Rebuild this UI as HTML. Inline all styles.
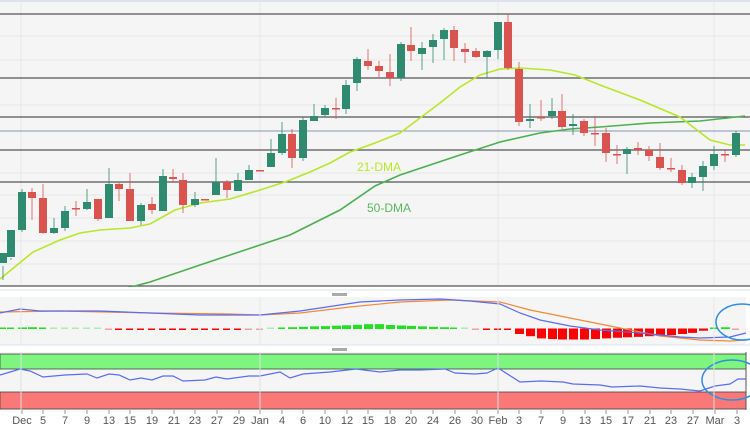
<!DOCTYPE html>
<html><head><meta charset="utf-8"><style>
body{margin:0;background:#fff;width:750px;height:430px;overflow:hidden;font-family:"Liberation Sans",sans-serif}
</style></head><body>
<svg id="s" width="750" height="430" xmlns="http://www.w3.org/2000/svg" font-family="Liberation Sans, sans-serif">
<rect x="0" y="0" width="750" height="430" fill="#fff"/>
<rect x="0" y="2" width="750" height="284" fill="#f5f5f5"/>
<line x1="0" y1="1" x2="750" y2="1" stroke="#dde3ee" stroke-width="2"/>
<g id="grid" stroke="#e6e6e6" stroke-width="1"></g>
<g stroke="#555" stroke-width="1.2">
<line x1="0" y1="14" x2="750" y2="14"/><line x1="0" y1="78" x2="750" y2="78"/><line x1="0" y1="117" x2="750" y2="117"/><line x1="0" y1="150" x2="750" y2="150"/><line x1="0" y1="182" x2="750" y2="182"/><line x1="0" y1="286" x2="750" y2="286"/>
</g>
<line x1="0" y1="131" x2="750" y2="131" stroke="#8896b0" stroke-width="1"/>
<polyline fill="none" stroke="#4caf50" stroke-width="1.6" points="120,290 150,282 200,265 260,245 290,235 310,225 340,210 375,186 400,175 430,165 460,155 500,142 540,133 570,129 600,127 650,123 700,121 745,116"/>
<polyline fill="none" stroke="#b8e62a" stroke-width="1.6" points="0,279 33,252 60,240 80,233 100,230 130,228 150,224 175,210 200,203 230,199 260,190 285,182 310,172 330,163 350,152 375,143 400,133 420,118 440,103 460,87 480,75 500,69 520,68 550,70 575,75 600,85 640,100 680,117 710,140 730,145 745,145"/>
<g id="candles"></g>
<text x="357" y="171" font-size="12" fill="#b8e62a">21-DMA</text>
<text x="367" y="212" font-size="12" fill="#5cb85c">50-DMA</text>
<rect x="0" y="287" width="750" height="10" fill="#fff"/>
<line x1="0" y1="290" x2="750" y2="290" stroke="#dde3ee"/>
<rect x="332" y="293" width="15" height="3" fill="#aaa"/>
<rect x="0" y="297" width="746" height="48" fill="#f5f5f5"/>
<line x1="0" y1="345" x2="750" y2="345" stroke="#dde3ee"/>
<g id="hist"></g>
<polyline fill="none" stroke="#f08a3a" stroke-width="1.2" points="0,312 60,311 150,313 230,314 260,315 300,313 350,307 400,302 450,300 500,302 530,310 570,318 620,328 660,336 700,340 730,341 746,340"/>
<polyline fill="none" stroke="#5a6cf0" stroke-width="1.2" points="0,313 20,309 40,311 100,311 150,313 200,315 260,315 300,311 340,305 360,302 400,300 440,299 470,301 500,304 520,313 540,320 570,326 600,330 640,333 680,337 700,338 730,337 746,333"/>
<ellipse cx="742" cy="322" rx="26" ry="18" fill="none" stroke="#2d8fe0" stroke-width="1.5"/>
<rect x="0" y="346" width="750" height="6" fill="#fff"/>
<rect x="332" y="348" width="15" height="3" fill="#aaa"/>
<rect x="0" y="352" width="746" height="58" fill="#f5f5f5"/>
<rect x="0" y="354" width="746" height="15" fill="#7ef57e" stroke="#444" stroke-width="0.8"/>
<rect x="0" y="392" width="746" height="17" fill="#fa7878" stroke="#444" stroke-width="0.8"/>
<line x1="746" y1="352" x2="746" y2="410" stroke="#555"/>
<polyline fill="none" stroke="#5a6cf0" stroke-width="1.2" points="0,375 20,369 30,371 43,377 65,375 87,374 97,378 109,374 119,375 130,380 141,378 152,380 163,376 173,376 183,381 205,380 216,377 227,379 249,376 260,376 280,372 290,378 303,374 330,372 356,369 380,372 400,370 420,370 445,369 455,373 475,374 487,373 498,368 520,382 541,381 563,382 573,384 600,385 612,387 640,386 660,388 680,389 700,391 715,386 730,384 738,379 746,379"/>
<ellipse cx="732" cy="380" rx="30" ry="20" fill="none" stroke="#2d8fe0" stroke-width="1.5"/>
<g id="ax" font-size="11" fill="#555" text-anchor="middle"></g>
</svg>
<script>
var s='http://www.w3.org/2000/svg';
function el(t,a,p){var e=document.createElementNS(s,t);for(var k in a)e.setAttribute(k,a[k]);document.getElementById(p).appendChild(e);return e;}
[36,60,105,173,195,218,241,264].forEach(function(y){el('line',{x1:0,y1:y,x2:750,y2:y},'grid')});
[21,260,498,714].forEach(function(x){el('line',{x1:x,y1:2,x2:x,y2:286},'grid');el('line',{x1:x,y1:297,x2:x,y2:345,stroke:'#e6e6e6'},'ax');el('line',{x1:x,y1:352,x2:x,y2:410,stroke:'#e0e0e0'},'ax');});
var c=[[3,263,253,266,280],[11,257,230,258,260],[22,230,192,189,232],[32,192,198,188,220],[43,198,233,184,234],[54,233,228,218,234],[65,228,211,206,231],[76,208,208,201,216],[87,209,202,189,210],[98,199,219,199,221],[109,218,184,168,218],[119,184,189,182,201],[130,189,221,173,212],[141,221,205,203,225],[152,204,210,197,214],[163,211,176,169,211],[173,177,179,169,183],[183,180,205,173,213],[195,205,199,192,207],[205,199,199,199,199],[216,195,182,158,195],[227,182,190,180,198],[238,191,180,173,191],[249,180,170,165,180],[260,170,170,170,170],[271,167,153,139,167],[282,153,134,122,155],[292,134,158,129,168],[303,158,120,117,161],[314,121,116,104,121],[325,115,108,105,117],[336,108,109,98,119],[346,109,85,80,114],[357,83,59,57,91],[368,61,66,49,70],[379,66,71,61,77],[390,72,78,54,86],[401,78,44,42,81],[411,45,51,27,61],[422,54,48,42,70],[433,47,40,34,63],[444,39,30,28,60],[454,30,48,26,61],[465,49,52,43,63],[476,51,57,48,58],[487,57,51,50,78],[498,50,22,22,59],[508,22,68,14,70],[519,69,122,62,126],[530,121,119,104,128],[541,117,117,100,121],[552,116,111,98,119],[562,111,127,94,129],[573,126,124,114,135],[584,121,133,119,136],[595,133,133,116,146],[606,133,153,128,162],[617,154,154,145,164],[627,154,149,147,174],[638,148,150,142,155],[649,150,156,146,161],[660,157,168,143,170],[671,168,168,158,172],[682,170,183,165,185],[692,183,177,173,188],[703,177,166,161,191],[714,166,154,146,170],[725,154,154,149,162],[736,155,133,131,157]];
c.forEach(function(d){var up=d[2]<d[1];var col=up?'#2e8b70':'#d9534f';var o=d[1],cl=d[2];
el('line',{x1:d[0],y1:d[3],x2:d[0],y2:d[4],stroke:col,'stroke-width':1,opacity:0.8},'candles');
var t=Math.min(o,cl),h=Math.max(Math.abs(o-cl),1.5);el('rect',{x:d[0]-4,y:t,width:8,height:h,fill:col},'candles');});
var hv=[0.5,0.5,0.7,0.8,0.5,0.3,0.2,0.2,0.2,0.2,-0.2,-0.4,-0.5,-0.5,-0.6,-0.6,-0.5,-0.6,-0.6,-0.6,-0.6,-0.5,-0.4,-0.3,-0.2,0.3,0.5,0.8,1.0,1.2,1.3,1.5,1.7,1.9,2.2,2.2,1.8,1.6,1.4,1.2,1.0,0.8,0.5,0.2,-0.3,-0.5,-0.6,-0.6,-2.5,-3.5,-4.5,-4.8,-5,-5,-5,-4.8,-4.5,-4.2,-4,-3.8,-3.5,-3.2,-3,-2.5,-2,-1,0.4,0.8];
c.forEach(function(d,i){var v=hv[i]||0;var y0=329;var h=Math.abs(v)*2.2;if(h<1.5)h=1.5;
el('rect',{x:d[0]-4,y:v>0?y0-h:y0-0.5,width:(Math.abs(v)<0.7?7:9),height:h,fill:v>0?(Math.abs(v)<0.4?'#a8f0a8':'#22e022'):(Math.abs(v)<0.4?'#f0a0a0':'#f00')},'hist');});
var L=[[22,'Dec'],[43,'5'],[65,'7'],[87,'9'],[109,'13'],[130,'15'],[152,'19'],[174,'21'],[195,'23'],[217,'27'],[239,'29'],[260,'Jan'],[282,'4'],[303,'6'],[325,'10'],[347,'12'],[368,'15'],[390,'18'],[411,'20'],[433,'24'],[455,'26'],[477,'30'],[498,'Feb'],[519,'3'],[541,'7'],[563,'9'],[585,'13'],[606,'15'],[628,'17'],[650,'21'],[671,'23'],[693,'27'],[715,'Mar'],[737,'3']];
L.forEach(function(l){el('line',{x1:l[0],y1:410,x2:l[0],y2:414,stroke:'#999'},'ax');var t=el('text',{x:l[0],y:424},'ax');t.textContent=l[1];});
</script>
</body></html>
